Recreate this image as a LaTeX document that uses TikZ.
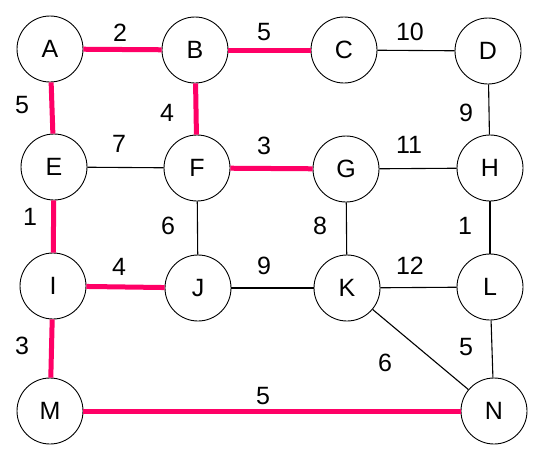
\documentclass[tikz,border=0pt]{standalone}
\usepackage{fontspec}
\setmainfont{Liberation Sans}
\definecolor{mst}{RGB}{255,0,102}
\begin{document}
\begin{tikzpicture}[x=1pt,y=-1pt,
  vert/.style={circle,draw=black,line width=0.9pt,minimum size=66pt,inner sep=0pt,font=\fontsize{25}{29}\selectfont,fill=white},
  plain/.style={draw=black,line width=1.1pt},
  tree/.style={draw=mst,line width=5pt},
  wt/.style={font=\fontsize{25}{29}\selectfont,inner sep=0pt}]
\useasboundingbox (0,0) rectangle (544,453);
\fill[white] (0,0) rectangle (544,453);
\node[vert] (A) at (50,49) {A};
\node[vert] (B) at (195,50) {B};
\node[vert] (C) at (344,50) {C};
\node[vert] (D) at (488,51) {D};
\node[vert] (E) at (54,167) {E};
\node[vert] (F) at (197,168) {F};
\node[vert] (G) at (346,169) {G};
\node[vert] (H) at (490,168) {H};
\node[vert] (I) at (53,286) {I};
\node[vert] (J) at (198,288) {J};
\node[vert] (K) at (347,288) {K};
\node[vert] (L) at (490,287) {L};
\node[vert] (M) at (50,411) {M};
\node[vert] (N) at (494,411) {N};
% black edges
\draw[plain] (C) -- (D);
\draw[plain] (E) -- (F);
\draw[plain] (D) -- (H);
\draw[plain] (G) -- (H);
\draw[plain] (F) -- (J);
\draw[plain] (G) -- (K);
\draw[plain] (H) -- (L);
\draw[plain] (J) -- (K);
\draw[plain] (K) -- (L);
\draw[plain] (K) -- (N);
\draw[plain] (L) -- (N);
% tree edges
\draw[tree] (A) -- (B);
\draw[tree] (B) -- (C);
\draw[tree] (A) -- (E);
\draw[tree] (B) -- (F);
\draw[tree] (E) -- (I);
\draw[tree] (F) -- (G);
\draw[tree] (I) -- (J);
\draw[tree] (I) -- (M);
\draw[tree] (M) -- (N);
% weights
\node[wt] (wAB) at (120,33) {2};
\node[wt] (wBC) at (264,32) {5};
\node[wt] (wCD) at (410,32) {10};
\node[wt] (wAE) at (22,105) {5};
\node[wt] (wBF) at (167,113) {4};
\node[wt] (wDH) at (466,113) {9};
\node[wt] (wEF) at (119,144) {7};
\node[wt] (wFG) at (264,146) {3};
\node[wt] (wGH) at (409,145) {11};
\node[wt] (wEI) at (30,217) {1};
\node[wt] (wFJ) at (168,226) {6};
\node[wt] (wGK) at (320,226) {8};
\node[wt] (wHL) at (465,226) {1};
\node[wt] (wIJ) at (119,267) {4};
\node[wt] (wJK) at (264,266) {9};
\node[wt] (wKL) at (410,266) {12};
\node[wt] (wIM) at (22,346) {3};
\node[wt] (wKN) at (385,363) {6};
\node[wt] (wLN) at (466,347) {5};
\node[wt] (wMN) at (263,396) {5};
\end{tikzpicture}
\end{document}
